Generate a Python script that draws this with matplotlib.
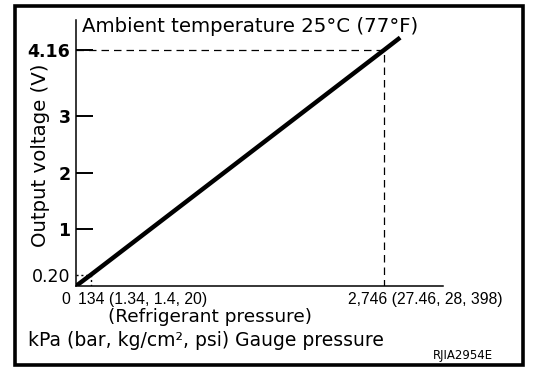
import matplotlib
matplotlib.use('Agg')
import matplotlib.pyplot as plt
from matplotlib.patches import Rectangle

plt.rcParams['font.family'] = ['DejaVu Sans']

# sensor characteristic (straight line) and the two marked points
line_kpa = [0, 134, 2746, 2890]
line_volt = [0, 0.20, 4.16, 4.38]
ref_kpa = [134, 2746]
ref_volt = [0.20, 4.16]

yticks = [0.20, 1, 2, 3, 4.16]
ytick_labels = ['0.20', '1', '2', '3', '4.16']
xlabels = ['0', '134 (1.34, 1.4, 20)', '2,746 (27.46, 28, 398)']
xlabel_pos = [0, 134, 2746]

W, H = 560, 378
fig = plt.figure(figsize=(W / 100, H / 100), dpi=100)
ax = fig.add_axes([76 / W, 1 - 286 / H, 367 / W, 266 / H])
ax.set_xlim(0, 3272)
ax.set_ylim(0, 4.69)

ax.plot(line_kpa, line_volt, color='k', lw=3.2, solid_capstyle='butt')

# guide lines
ax.plot([0, ref_kpa[1], ref_kpa[1]], [ref_volt[1], ref_volt[1], 0],
        color='k', lw=0.9, ls=(0, (6, 4)))
ax.plot([0, ref_kpa[0], ref_kpa[0]], [ref_volt[0], ref_volt[0], 0],
        color='k', lw=1.0, ls=(0, (1.5, 2)))

for s in ['top', 'right']:
    ax.spines[s].set_visible(False)
for s in ['left', 'bottom']:
    ax.spines[s].set_linewidth(1.1)

ax.set_yticks(yticks)
ax.set_yticklabels(ytick_labels)
ax.tick_params(axis='y', direction='in', length=12, width=1.4, pad=4, labelsize=12.5)
for lab in ax.get_yticklabels():
    if lab.get_text() != '0.20':
        lab.set_fontweight('bold')
ax.yaxis.get_major_ticks()[0].tick1line.set_visible(False)
ax.set_xticks([])

# x labels placed by hand offsets
offsets = [(-10, 'center'), (-13, 'left'), (-36, 'left')]
for lbl, xp, (dx, ha) in zip(xlabels, xlabel_pos, offsets):
    ax.annotate(lbl, xy=(xp, 0), xytext=(dx * 0.72, -4), textcoords='offset points',
                ha=ha, va='top', fontsize=11.3, family='Liberation Sans')

fig.text(82 / W, 1 - 32 / H, 'Ambient temperature 25°C (77°F)', fontsize=14.2,
         va='baseline', ha='left')
fig.text(41 / W, 1 - 155 / H, 'Output voltage (V)', rotation=90, fontsize=14.2,
         va='center', ha='center')
fig.text(210 / W, 1 - 317 / H, '(Refrigerant pressure)', fontsize=13.3,
         va='center', ha='center')
fig.text(28 / W, 1 - 340 / H, 'kPa (bar, kg/cm², psi) Gauge pressure', fontsize=13.5,
         va='center', ha='left')
fig.text(433 / W, 1 - 356 / H, 'RJIA2954E', fontsize=8.5, va='center', ha='left')

fig.patches.append(Rectangle((15 / W, 1 - 365 / H), (523 - 15) / W, (365 - 6) / H,
                             transform=fig.transFigure, fill=False, lw=2.6, color='k'))

fig.savefig('out.png', dpi=100)
